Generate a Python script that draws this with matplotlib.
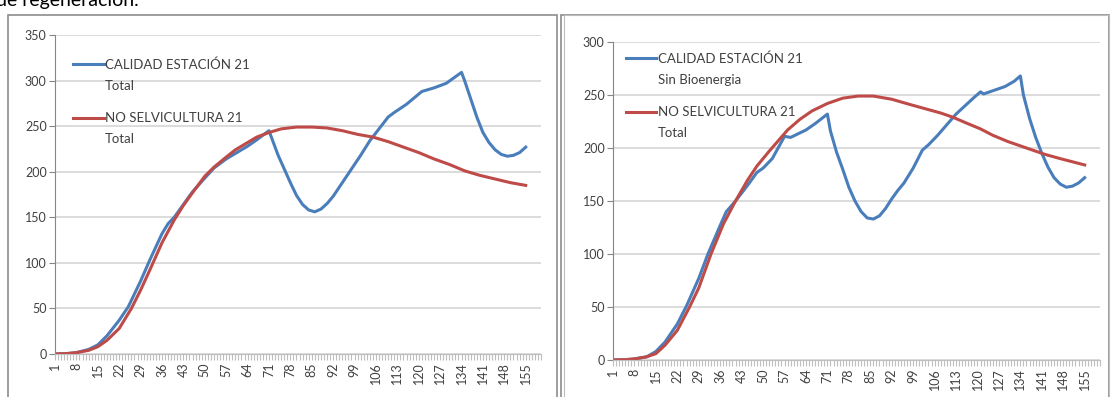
import matplotlib
matplotlib.use("Agg")
import matplotlib.pyplot as plt
from matplotlib.patches import Rectangle
from matplotlib.ticker import FixedLocator, MultipleLocator

plt.rcParams['font.family'] = ['Lato', 'DejaVu Sans']

# categories shown on the x axis
tick_cats = list(range(1, 156, 7))

# left chart: CALIDAD ESTACIÓN 21 Total
left_blue_x = [1, 5, 8, 12, 15, 18, 22, 25, 29, 32, 36, 38, 40, 43, 46, 50, 53, 57, 60, 64, 67, 71,
               72, 74, 76, 78, 80, 82, 84, 86, 88, 90, 92, 95, 98, 101, 104, 107, 110, 112, 116,
               121, 125, 129, 134, 135, 137, 139, 141, 143, 145, 147, 149, 151, 153, 155]
left_blue_y = [0, 0.5, 1.5, 5, 10, 20, 37, 52, 80, 103, 132, 143, 150, 164, 178, 193, 204, 214, 220, 228, 235, 245,
               236, 218, 203, 188, 174, 164, 158, 156, 159, 165, 173, 188, 203, 218, 234, 247, 260, 265, 274,
               288, 292, 297, 309, 300, 280, 260, 243, 232, 224, 219, 217, 218, 221, 227]

# left chart: NO SELVICULTURA 21 Total
left_red_x = [1, 5, 8, 12, 15, 18, 22, 26, 29, 32, 36, 40, 43, 46, 50, 53, 57, 60, 64, 67, 71, 75, 80,
              85, 90, 95, 100, 105, 110, 115, 120, 125, 130, 135, 140, 145, 150, 155]
left_red_y = [0, 0.5, 1.5, 4, 8, 15, 28, 50, 70, 92, 122, 147, 163, 177, 195, 205, 216, 224, 232, 238, 243, 247, 249,
              249, 248, 245, 241, 238, 233, 227, 221, 214, 208, 201, 196, 192, 188, 185]

# right chart: CALIDAD ESTACIÓN 21 Sin Bioenergia
right_blue_x = [1, 5, 8, 12, 15, 18, 22, 25, 29, 32, 36, 38, 41, 45, 48, 50, 53, 57, 59, 64, 67, 71,
                72, 74, 76, 78, 80, 82, 84, 86, 88, 90, 92, 94, 96, 99, 102, 104, 107, 110, 113, 116, 119,
                121, 122, 125, 129, 132, 134, 135, 137, 139, 141, 143, 145, 147, 149, 151, 153, 155]
right_blue_y = [0, 0.3, 1, 3, 8, 17, 34, 51, 77, 100, 127, 140, 150, 165, 177, 181, 190, 211, 210, 217, 223, 232,
                216, 196, 180, 163, 150, 140, 134, 133, 136, 143, 152, 160, 167, 181, 198, 203, 212, 222, 232, 240, 248,
                253, 251, 254, 258, 263, 268, 250, 228, 210, 195, 182, 172, 166, 163, 164, 167, 172]

# right chart: NO SELVICULTURA 21 Total
right_red_x = [1, 5, 8, 12, 15, 18, 22, 26, 29, 33, 37, 41, 45, 48, 52, 55, 58, 62, 66, 71, 76, 81,
               86, 92, 98, 103, 108, 112, 116, 121, 125, 130, 134, 138, 142, 147, 151, 155]
right_red_y = [0, 0.3, 1, 3, 6, 14, 28, 50, 68, 100, 128, 150, 170, 183, 197, 207, 217, 227, 235, 242, 247, 249,
               249, 246, 241, 237, 233, 229, 224, 218, 212, 206, 202, 198, 194, 190, 187, 184]

blue = '#4A7EBB'
red = '#BE4B48'
grid_c = '#D9D9D9'
axis_c = '#868686'
text_c = '#404040'

fig = plt.figure(figsize=(11.12, 3.97), dpi=100)

# clipped caption text from the page above the charts
fig.text(-0.004, 1 - 6 / 397, "de regeneración.", fontsize=14, color='black', va='baseline')

# chart frames
fig.patches.append(Rectangle((8 / 1112, -0.05), 549 / 1112, 1.05 - 15 / 397, transform=fig.transFigure,
                             fill=False, edgecolor='#8C8C8C', lw=1.2))
fig.patches.append(Rectangle((561 / 1112, -0.05), 548 / 1112, 1.05 - 15 / 397, transform=fig.transFigure,
                             fill=False, edgecolor='#8C8C8C', lw=1.2))
fig.patches.append(Rectangle((564 / 1112, -0.05), 545 / 1112, 1.05 - 15 / 397, transform=fig.transFigure,
                             fill=False, edgecolor='#BDBDBD', lw=0.8))


def draw(ax, bx, by, rx, ry, blue_label, ymax, anchor):
    ax.plot(bx, by, color=blue, lw=2.2, label=blue_label, solid_joinstyle='round')
    ax.plot(rx, ry, color=red, lw=2.2, label="NO SELVICULTURA 21\nTotal", solid_joinstyle='round')
    ax.set_xlim(1, 160)
    ax.set_ylim(0, ymax)
    ax.yaxis.set_major_locator(MultipleLocator(50))
    ax.xaxis.set_major_locator(FixedLocator(tick_cats))
    ax.xaxis.set_minor_locator(MultipleLocator(1))
    ax.set_xticklabels([str(c) for c in tick_cats], rotation=90)
    ax.tick_params(axis='x', which='both', length=4, width=0.8, color='#BFBFBF', labelsize=9,
                   labelcolor=text_c, pad=2)
    ax.tick_params(axis='y', length=4, width=0.8, color=axis_c, labelsize=9, labelcolor=text_c, pad=2)
    ax.grid(axis='y', color=grid_c, lw=1.3)
    ax.set_axisbelow(True)
    for s in ['top', 'right']:
        ax.spines[s].set_visible(False)
    ax.spines['left'].set_color(axis_c)
    ax.spines['bottom'].set_color('#BFBFBF')
    ax.spines['left'].set_linewidth(0.8)
    ax.spines['bottom'].set_linewidth(0.8)
    leg = ax.legend(loc='upper left', bbox_to_anchor=anchor, frameon=False, fontsize=9.5,
                    handlelength=2.3, handletextpad=0.1, labelspacing=1.55, labelcolor=text_c,
                    borderaxespad=0)
    for t in leg.get_texts():
        t.set_linespacing(1.9)
    # put the legend line next to the first line of each label
    for ln in leg.get_lines():
        ln.set_ydata([v + 8 for v in ln.get_ydata()])
    return leg


ax1 = fig.add_axes([55 / 1112, 1 - 354 / 397, 486 / 1112, 319 / 397])
draw(ax1, left_blue_x, left_blue_y, left_red_x, left_red_y, "CALIDAD ESTACIÓN 21\nTotal", 350, (0.027, 0.943))

ax2 = fig.add_axes([613 / 1112, 1 - 360 / 397, 487 / 1112, 318 / 397])
draw(ax2, right_blue_x, right_blue_y, right_red_x, right_red_y, "CALIDAD ESTACIÓN 21\nSin Bioenergia", 300,
     (0.016, 0.985))

fig.savefig("out.png", dpi=100)
